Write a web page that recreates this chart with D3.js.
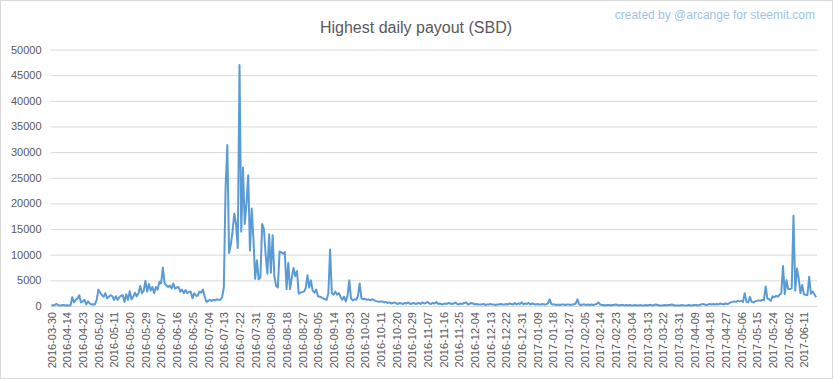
<!DOCTYPE html>
<html>
<head>
<meta charset="utf-8">
<script src="https://cdn.jsdelivr.net/npm/d3@7"></script>
<style>
  body { margin: 0; background: #fff; }
  text { font-family: "Liberation Sans", Arial, sans-serif; }
</style>
</head>
<body>
<div id="vis"></div>
<script>
// Highest daily payout (SBD), one value per day
var payout = [
  100, 150, 200, 400, 150, 100, 150, 200, 100, 150,
  100, 150, 1700, 700, 1200, 1500, 2100, 700, 900, 1200,
  300, 900, 500, 300, 350, 300, 1200, 3200, 2600, 2100,
  1800, 2500, 1500, 1800, 2100, 1900, 1200, 1900, 1200, 1700,
  2000, 2100, 800, 2300, 1200, 2900, 1300, 1800, 2600, 1900,
  2500, 3900, 2500, 3000, 4900, 2800, 4300, 3000, 3700, 2500,
  3700, 3200, 4700, 4400, 7500, 4400, 4000, 3700, 4000, 3400,
  4400, 3400, 3600, 3700, 2800, 3200, 2500, 3100, 2500, 2800,
  2800, 1500, 2500, 2000, 2000, 2800, 2600, 3200, 1800, 800,
  1000, 1200, 1000, 1200, 1100, 1300, 1200, 1200, 1700, 3600,
  23000, 31400, 10300, 12000, 14500, 18000, 16000, 11300, 47000, 14500,
  27000, 16000, 20000, 25500, 10800, 19000, 13000, 5300, 8900, 5200,
  5600, 16000, 15000, 10000, 6300, 14000, 6500, 13800, 5800, 3900,
  3600, 10600, 10500, 10200, 10500, 3300, 8400, 3300, 5500, 7400,
  5800, 6800, 2400, 2600, 2700, 2800, 3500, 6000, 3600, 5000,
  3000, 2600, 3200, 1900, 1800, 1700, 1500, 1300, 1200, 2500,
  11000, 2500, 2200, 2800, 2200, 2500, 1800, 1200, 1800, 900,
  2000, 5000, 1500, 1100, 1300, 1200, 2000, 4400, 1500, 1300,
  1400, 1200, 1300, 1100, 1300, 1200, 1000, 900, 800, 900,
  900, 700, 800, 600, 700, 500, 600, 700, 500, 400,
  600, 500, 400, 600, 500, 700, 400, 500, 600, 400,
  500, 600, 400, 700, 500, 600, 800, 500, 400, 600,
  500, 800, 400, 500, 300, 400, 500, 400, 600, 500,
  400, 500, 700, 400, 300, 500, 400, 600, 700, 300,
  400, 600, 500, 300, 400, 300, 300, 300, 400, 200,
  300, 300, 400, 300, 300, 200, 300, 300, 400, 300,
  300, 400, 300, 500, 400, 300, 600, 300, 500, 400,
  700, 300, 500, 400, 600, 300, 500, 400, 300, 400,
  300, 300, 400, 300, 300, 500, 1300, 400, 300, 300,
  200, 300, 200, 300, 300, 200, 300, 300, 200, 300,
  300, 500, 1300, 300, 200, 300, 300, 200, 300, 200,
  300, 200, 300, 400, 700, 300, 200, 200, 100, 200,
  200, 100, 200, 200, 300, 200, 100, 200, 200, 100,
  200, 100, 200, 100, 100, 200, 100, 100, 200, 100,
  100, 200, 100, 200, 200, 100, 200, 300, 200, 100,
  100, 100, 200, 100, 200, 200, 300, 200, 100, 100,
  100, 100, 200, 100, 100, 100, 200, 100, 100, 200,
  200, 100, 200, 300, 400, 300, 200, 300, 400, 300,
  400, 300, 400, 300, 500, 400, 300, 500, 400, 500,
  700, 800, 900, 800, 1000, 900, 1000, 800, 2500, 800,
  700, 1800, 800, 700, 900, 1000, 1100, 1000, 1200, 1100,
  3800, 1500, 1300, 1000, 1900, 1700, 2000, 1800, 2200, 2500,
  7800, 2300, 5000, 3300, 3300, 3500, 17600, 3000, 7300, 5400,
  2500, 4100, 2300, 2200, 2100, 5700, 2400, 2800, 2300, 1700
];

// category dates: first day, then a gap, then every day
var firstDay = '2016-03-30';
var dailyFrom = new Date(2016, 3, 6);
var yTicks = [0, 5000, 10000, 15000, 20000, 25000, 30000, 35000, 40000, 45000, 50000];
var labelEvery = 9;

var fmt = d3.timeFormat('%Y-%m-%d');
var dates = [firstDay];
for (var k = 1; k < payout.length; k++) {
  dates.push(fmt(d3.timeDay.offset(dailyFrom, k - 1)));
}

var width = 833;
var height = 379;
var plot = { left: 50.5, right: 817, top: 49.5, bottom: 306 };

var svg = d3.select('#vis').append('svg')
  .attr('width', width)
  .attr('height', height);

// outer frame
svg.append('rect')
  .attr('x', 0.5).attr('y', 0.5)
  .attr('width', width - 1).attr('height', height - 1)
  .attr('fill', '#fff')
  .attr('stroke', '#d9d9d9');

var x = d3.scalePoint()
  .domain(d3.range(payout.length))
  .range([plot.left, plot.right])
  .padding(0.5);

var y = d3.scaleLinear()
  .domain([0, 50000])
  .range([plot.bottom, plot.top]);

// gridlines + y labels
var yAxis = d3.axisLeft(y)
  .tickValues(yTicks)
  .tickSize(-(plot.right - plot.left))
  .tickPadding(9)
  .tickFormat(d3.format('d'));

var gy = svg.append('g')
  .attr('transform', 'translate(' + plot.left + ',0)')
  .call(yAxis);
gy.select('.domain').remove();
gy.selectAll('.tick line').attr('stroke', '#d9d9d9');
gy.selectAll('.tick text')
  .attr('fill', '#595959')
  .style('font-size', '11px');

// x labels (every 9th day), rotated
var labelIdx = d3.range(0, payout.length, labelEvery);
var xAxis = d3.axisBottom(x)
  .tickValues(labelIdx)
  .tickSize(0)
  .tickFormat(function (i) { return dates[i]; });

var gx = svg.append('g')
  .attr('transform', 'translate(0,' + plot.bottom + ')')
  .call(xAxis);
gx.select('.domain').remove();
gx.selectAll('.tick text')
  .attr('fill', '#595959')
  .style('font-size', '11px')
  .attr('text-anchor', 'end')
  .attr('dy', '0.35em')
  .attr('transform', 'translate(0,6) rotate(-90)')
  .attr('x', 0)
  .attr('y', 0);

// the line
var line = d3.line()
  .x(function (d, i) { return x(i); })
  .y(function (d) { return y(d); });

svg.append('path')
  .datum(payout)
  .attr('fill', 'none')
  .attr('stroke', '#5b9bd5')
  .attr('stroke-width', 2)
  .attr('stroke-linejoin', 'round')
  .attr('d', line);

// title and credit
svg.append('text')
  .attr('x', 416)
  .attr('y', 33)
  .attr('text-anchor', 'middle')
  .attr('fill', '#595959')
  .style('font-size', '16px')
  .text('Highest daily payout (SBD)');

svg.append('text')
  .attr('x', 815)
  .attr('y', 19)
  .attr('text-anchor', 'end')
  .attr('fill', '#9dc3e6')
  .style('font-size', '12px')
  .text('created by @arcange for steemit.com');
</script>
</body>
</html>
